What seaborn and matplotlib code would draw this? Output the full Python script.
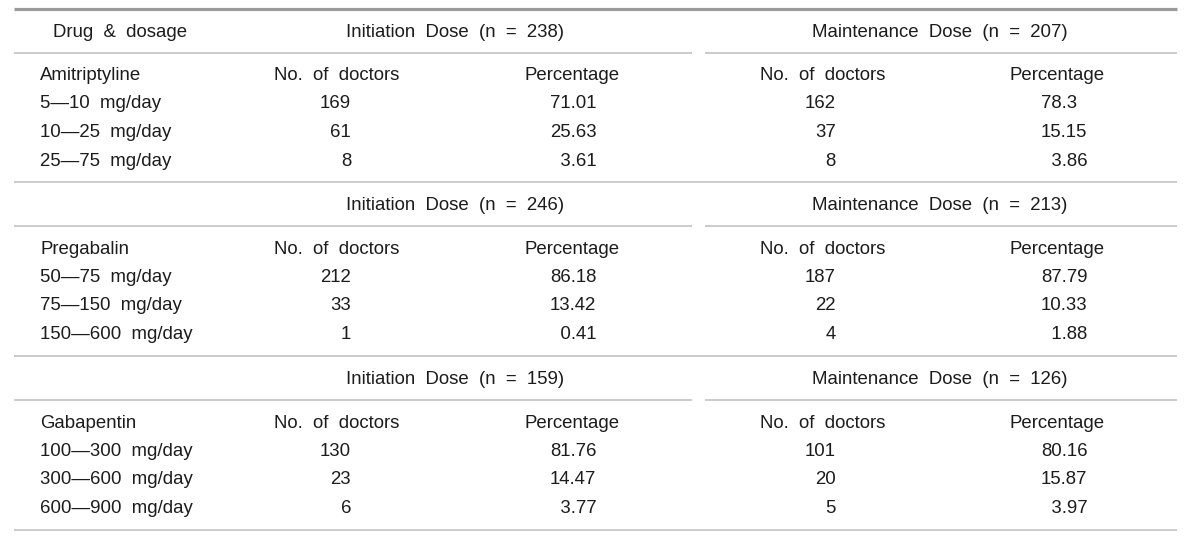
import matplotlib
matplotlib.use("Agg")
import matplotlib.pyplot as plt
import seaborn as sns

# ---------------- data ----------------
drugs = ["Amitriptyline", "Pregabalin", "Gabapentin"]
dosages = [
    ["5\u201410 mg/day", "10\u201425 mg/day", "25\u201475 mg/day"],
    ["50\u201475 mg/day", "75\u2014150 mg/day", "150\u2014600 mg/day"],
    ["100\u2014300 mg/day", "300\u2014600 mg/day", "600\u2014900 mg/day"],
]
init_n = [238, 246, 159]
maint_n = [207, 213, 126]
init_doctors = [[169, 61, 8], [212, 33, 1], [130, 23, 6]]
init_pct = [[71.01, 25.63, 3.61], [86.18, 13.42, 0.41], [81.76, 14.47, 3.77]]
maint_doctors = [[162, 37, 8], [187, 22, 4], [101, 20, 5]]
maint_pct = [[78.3, 15.15, 3.86], [87.79, 10.33, 1.88], [80.16, 15.87, 3.97]]
col_doctors = "No. of doctors"
col_pct = "Percentage"
first_header = "Drug & dosage"

# ---------------- style ----------------
sns.set_theme(style="white")
plt.rcParams["font.family"] = ["Liberation Sans", "DejaVu Sans"]
FS = 13.4
TXT = "#1c1c1c"
THIN = "#bdbdbd"
THICK = "#9a9a9a"

fig = plt.figure(figsize=(12, 5.4), dpi=100)
ax = fig.add_axes([0, 0, 1, 1])
ax.set_xlim(0, 1200)
ax.set_ylim(540, 0)
ax.axis("off")
sns.despine(ax=ax, left=True, bottom=True)

X0, X1 = 14, 1177
GAP0, GAP1 = 692, 705
section_tops = [9, 182, 356]
row_pitch = 28.7


def wide(s):
    # the source typeface has wide word spaces
    return s.replace(" ", "  ")


def pct_str(v):
    s = str(v)
    return ("\u2007" + s) if v < 10 else s


def put(x, y, s, ha):
    ax.text(x, y, s, ha=ha, va="center", fontsize=FS, color=TXT)


for k, top in enumerate(section_tops):
    if k == 0:
        ax.hlines(top, X0, X1, color=THICK, lw=2.3)
        hy = top + 23.5
        put(53, hy, wide(first_header), "left")
    else:
        ax.hlines(top, X0, X1, color=THIN, lw=1.1)
        hy = top + 24
    put(455, hy, wide(f"Initiation Dose (n = {init_n[k]})"), "center")
    put(940, hy, wide(f"Maintenance Dose (n = {maint_n[k]})"), "center")
    ax.hlines(top + 44, X0, GAP0, color=THIN, lw=1.1)
    ax.hlines(top + 44, GAP1, X1, color=THIN, lw=1.1)

    dy = top + 67
    put(40, dy, drugs[k], "left")
    put(337, dy, wide(col_doctors), "center")
    put(572, dy, col_pct, "center")
    put(823, dy, wide(col_doctors), "center")
    put(1057, dy, col_pct, "center")

    for i in range(3):
        ry = top + 95 + i * row_pitch
        put(40, ry, wide(dosages[k][i]), "left")
        put(351, ry, str(init_doctors[k][i]), "right")
        put(550, ry, pct_str(init_pct[k][i]), "left")
        put(836, ry, str(maint_doctors[k][i]), "right")
        put(1041, ry, pct_str(maint_pct[k][i]), "left")

ax.hlines(530, X0, X1, color=THIN, lw=1.1)

fig.savefig("out.png", dpi=100, facecolor="white")
